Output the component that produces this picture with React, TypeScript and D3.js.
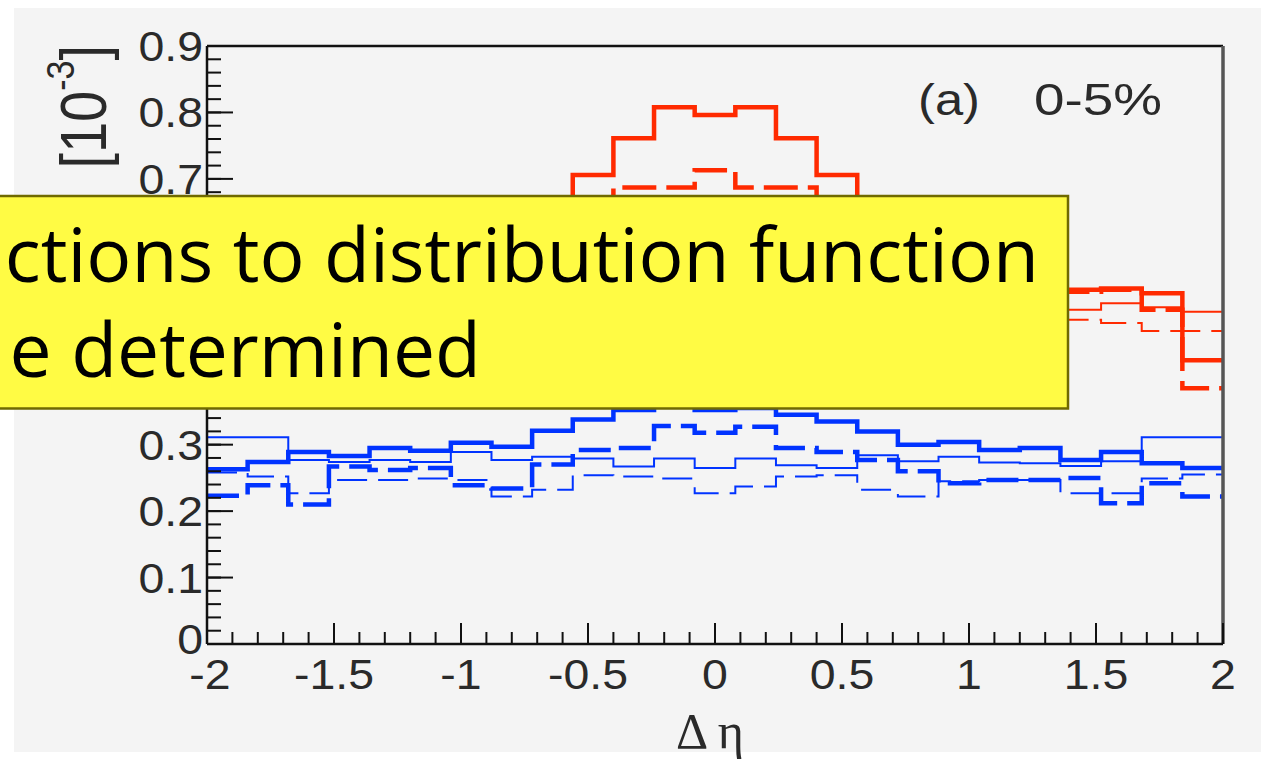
import React from "react";
import * as d3 from "d3";

// 25 bins of width 0.16 between -2 and 2
const binEdges = d3.range(26).map((i) => -2 + i * 0.16);

// red histograms (the middle part is hidden under the yellow note)
const redThick = [0.428, 0.52, 0.535, 0.53, 0.55, 0.565, 0.59, 0.62, 0.655, 0.706, 0.761, 0.808, 0.796, 0.808, 0.761, 0.706, 0.655, 0.615, 0.585, 0.56, 0.545, 0.533, 0.535, 0.528, 0.427];
const redThickDashed = [0.385, 0.5, 0.53, 0.53, 0.54, 0.56, 0.58, 0.6, 0.625, 0.65, 0.687, 0.687, 0.713, 0.687, 0.687, 0.65, 0.625, 0.6, 0.58, 0.56, 0.54, 0.53, 0.533, 0.503, 0.385];
const redThin = [0.5, 0.507, 0.513, 0.503, 0.51, 0.53, 0.55, 0.57, 0.59, 0.61, 0.63, 0.64, 0.645, 0.64, 0.63, 0.61, 0.59, 0.57, 0.55, 0.53, 0.51, 0.503, 0.513, 0.507, 0.5];
const redThinDashed = [0.471, 0.471, 0.483, 0.488, 0.49, 0.5, 0.52, 0.54, 0.56, 0.575, 0.59, 0.6, 0.61, 0.6, 0.59, 0.575, 0.56, 0.54, 0.52, 0.5, 0.49, 0.488, 0.483, 0.471, 0.471];

// blue histograms
const blueThick = [0.263, 0.274, 0.289, 0.283, 0.295, 0.291, 0.303, 0.297, 0.321, 0.338, 0.352, 0.357, 0.352, 0.355, 0.345, 0.335, 0.32, 0.3, 0.304, 0.292, 0.295, 0.277, 0.289, 0.272, 0.265];
const blueThickDashed = [0.223, 0.239, 0.21, 0.267, 0.262, 0.265, 0.239, 0.234, 0.27, 0.292, 0.295, 0.328, 0.318, 0.327, 0.295, 0.289, 0.277, 0.26, 0.242, 0.247, 0.247, 0.25, 0.212, 0.242, 0.222];
const blueThin = [0.311, 0.311, 0.277, 0.274, 0.277, 0.274, 0.289, 0.277, 0.282, 0.279, 0.267, 0.279, 0.265, 0.279, 0.269, 0.265, 0.284, 0.275, 0.282, 0.273, 0.272, 0.268, 0.275, 0.311, 0.311];
const blueThinDashed = [0.258, 0.252, 0.227, 0.247, 0.247, 0.249, 0.247, 0.222, 0.232, 0.254, 0.252, 0.249, 0.227, 0.237, 0.252, 0.254, 0.232, 0.222, 0.245, 0.247, 0.247, 0.227, 0.227, 0.249, 0.255];

const xTickLabels = ["-2", "-1.5", "-1", "-0.5", "0", "0.5", "1", "1.5", "2"];
// 0.4, 0.5 and 0.6 sit behind the yellow note, so only these are drawn
const yTickLabels = ["0", "0.1", "0.2", "0.3", "0.7", "0.8", "0.9"];
const yMajorTicks = d3.range(0, 0.9001, 0.1);

const noteLines = ["ctions to distribution function", "e determined"];

const RED = "#ff2a00";
const BLUE = "#0033ff";
const AXIS_FONT = "'Liberation Sans', Arial, sans-serif";
const TEXT_COLOR = "#2a2a2a";

export default function App() {
  const left = 207;
  const right = 1223;
  const top = 46;
  const bottom = 644;

  const x = d3.scaleLinear().domain([-2, 2]).range([left, right]);
  const y = d3.scaleLinear().domain([0, 0.9]).range([bottom, top]);

  const step = (vals: number[]) =>
    d3
      .line<number>()
      .x((_, i) => x(binEdges[i]))
      .y((d) => y(d))
      .curve(d3.curveStepAfter)([...vals, vals[vals.length - 1]]);

  const series = [
    { vals: blueThinDashed, color: BLUE, w: 2, dash: "30 11" },
    { vals: blueThin, color: BLUE, w: 2, dash: null },
    { vals: blueThickDashed, color: BLUE, w: 4.5, dash: "32 10" },
    { vals: blueThick, color: BLUE, w: 4.5, dash: null },
    { vals: redThinDashed, color: RED, w: 2, dash: "30 11" },
    { vals: redThin, color: RED, w: 2, dash: null },
    { vals: redThickDashed, color: RED, w: 4.5, dash: "34 10" },
    { vals: redThick, color: RED, w: 4.5, dash: null },
  ];

  const xMinor = d3.range(-2, 2.0001, 0.1);
  const yMinor = d3.range(0, 0.9001, 0.02);

  return (
    <svg
      width={1261}
      height={768}
      style={{ position: "absolute", left: 0, top: 0, display: "block" }}
    >
      <rect x={0} y={0} width={1261} height={768} fill="#ffffff" />
      <rect x={14} y={8} width={1247} height={744} fill="#f4f4f4" />

      {/* histograms */}
      {series.map((s, i) => (
        <path
          key={i}
          d={step(s.vals) || ""}
          fill="none"
          stroke={s.color}
          strokeWidth={s.w}
          strokeDasharray={s.dash || undefined}
          strokeLinejoin="miter"
        />
      ))}

      {/* frame */}
      <line x1={left} x2={right} y1={top} y2={top} stroke="#111" strokeWidth={2.5} />
      <line x1={right} x2={right} y1={top} y2={bottom} stroke="#555" strokeWidth={3.5} />
      <line x1={left} x2={left} y1={top} y2={bottom} stroke="#111" strokeWidth={2.5} />
      <line x1={left} x2={right} y1={bottom} y2={bottom} stroke="#111" strokeWidth={2.5} />

      {/* y ticks */}
      {yMinor.map((v, i) => (
        <line key={"ym" + i} x1={left} x2={left + 14} y1={y(v)} y2={y(v)} stroke="#111" strokeWidth={2} />
      ))}
      {yMajorTicks.map((v, i) => (
        <line key={"yM" + i} x1={left} x2={left + 26} y1={y(v)} y2={y(v)} stroke="#111" strokeWidth={2} />
      ))}
      {yTickLabels.map((t) => (
        <text
          key={"y" + t}
          transform={`translate(203, ${y(+t) + (+t === 0 ? 10 : 15)}) scale(1.08, 1)`}
          textAnchor="end"
          fontFamily={AXIS_FONT}
          fontSize={43}
          fill={TEXT_COLOR}
        >
          {t}
        </text>
      ))}

      {/* x ticks */}
      {xMinor.map((v, i) => (
        <line key={"xm" + i} x1={x(v)} x2={x(v)} y1={bottom} y2={bottom - 12} stroke="#111" strokeWidth={2} />
      ))}
      {xTickLabels.map((t) => (
        <g key={"x" + t}>
          <line x1={x(+t)} x2={x(+t)} y1={bottom} y2={bottom - 21} stroke="#111" strokeWidth={2} />
          <text
            transform={`translate(${x(+t) + (+t === -2 ? 3 : 0)}, 689) scale(1.08, 1)`}
            textAnchor="middle"
            fontFamily={AXIS_FONT}
            fontSize={43}
            fill={TEXT_COLOR}
          >
            {t}
          </text>
        </g>
      ))}

      {/* axis titles */}
      <text x={710} y={748} textAnchor="middle" fontFamily="'Liberation Serif', serif" fontSize={50} fill={TEXT_COLOR}>
        Δ η
      </text>
      <text
        transform="translate(106, 45) scale(1.15, 1) rotate(-90)"
        textAnchor="end"
        fontFamily={AXIS_FONT}
        fontSize={56}
        fill={TEXT_COLOR}
      >
        [10
        <tspan fontSize={34} dy={-28}>-3</tspan>
        <tspan dy={28}>]</tspan>
      </text>

      {/* panel label */}
      <text x={918} y={115} fontFamily={AXIS_FONT} fontSize={44} fill={TEXT_COLOR} textLength={62} lengthAdjust="spacingAndGlyphs">
        (a)
      </text>
      <text x={1034} y={115} fontFamily={AXIS_FONT} fontSize={44} fill={TEXT_COLOR} textLength={128} lengthAdjust="spacingAndGlyphs">
        0-5%
      </text>

      {/* yellow note on top */}
      <rect x={-10} y={196} width={1078} height={212.5} fill="#fffb44" stroke="#6f6900" strokeWidth={2.5} />
      <text x={1039} y={282} textAnchor="end" fontFamily="'Open Sans', sans-serif" fontSize={75} fill="#000">
        {noteLines[0]}
      </text>
      <text x={481} y={377} textAnchor="end" fontFamily="'Open Sans', sans-serif" fontSize={75} fill="#000">
        {noteLines[1]}
      </text>
    </svg>
  );
}
